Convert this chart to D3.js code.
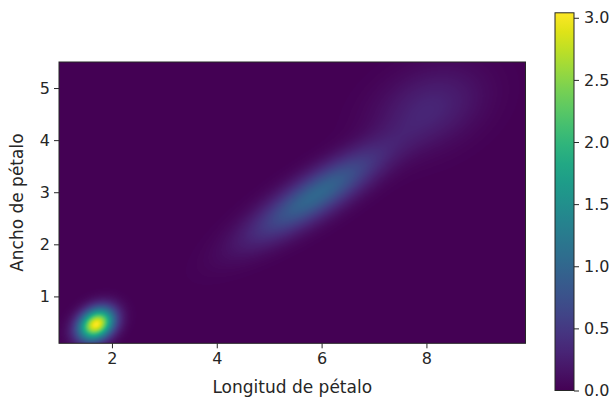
<!DOCTYPE html>
<html>
<head>
<meta charset="utf-8">
<script src="https://cdn.jsdelivr.net/npm/d3@7"></script>
<style>
  html, body { margin: 0; padding: 0; background: #fff; }
  svg { display: block; }
  text { font-family: "DejaVu Sans", sans-serif; fill: #262626; }
</style>
</head>
<body>
<svg id="chart" width="613" height="399"></svg>
<script>
// Axis extents (data units)
const xDomain = [0.99, 9.89];
const yDomain = [0.1, 5.5];
const xTicks = [2, 4, 6, 8];
const yTicks = [1, 2, 3, 4, 5];
const cbTicks = [0.0, 0.5, 1.0, 1.5, 2.0, 2.5, 3.0];
const cbMax = 3.04;

// Gaussian components of the density surface
const compCx    = [1.70, 5.90, 8.05];
const compCy    = [0.47, 2.95, 4.62];
const compPeak  = [3.02, 1.00, 0.30];
const compMajor = [0.25, 0.98, 0.72];
const compMinor = [0.19, 0.27, 0.48];
const compAngle = [35, 33, 25];   // degrees, orientation of major axis

const xLabel = "Longitud de pétalo";
const yLabel = "Ancho de pétalo";

const tickFont = 16;
const labelFont = 17;
const plot = { left: 59, right: 525.5, top: 62, bottom: 343.3 };
const cb = { left: 555, right: 574, top: 12.8, bottom: 390.5 };

const svg = d3.select("#chart");
const x = d3.scaleLinear().domain(xDomain).range([plot.left, plot.right]);
const y = d3.scaleLinear().domain(yDomain).range([plot.bottom, plot.top]);
const color = d3.scaleSequential(d3.interpolateViridis).domain([0, cbMax]);

function density(px, py) {
  let s = 0;
  for (let i = 0; i < compCx.length; i++) {
    const a = compAngle[i] * Math.PI / 180;
    const dx = px - compCx[i], dy = py - compCy[i];
    const u = dx * Math.cos(a) + dy * Math.sin(a);
    const v = -dx * Math.sin(a) + dy * Math.cos(a);
    s += compPeak[i] * Math.exp(-0.5 * ((u * u) / (compMajor[i] ** 2) + (v * v) / (compMinor[i] ** 2)));
  }
  return s;
}

// Raster heatmap rendered pixel by pixel through the scales
const w = Math.round(plot.right - plot.left), h = Math.round(plot.bottom - plot.top);
const canvas = document.createElement("canvas");
canvas.width = w; canvas.height = h;
const ctx = canvas.getContext("2d");
const img = ctx.createImageData(w, h);
for (let j = 0; j < h; j++) {
  const dy = y.invert(plot.top + j + 0.5);
  for (let i = 0; i < w; i++) {
    const dx = x.invert(plot.left + i + 0.5);
    const c = d3.rgb(color(Math.min(density(dx, dy), cbMax)));
    const k = (j * w + i) * 4;
    img.data[k] = c.r; img.data[k + 1] = c.g; img.data[k + 2] = c.b; img.data[k + 3] = 255;
  }
}
ctx.putImageData(img, 0, 0);
svg.append("image")
  .attr("x", plot.left).attr("y", plot.top)
  .attr("width", plot.right - plot.left).attr("height", plot.bottom - plot.top)
  .attr("preserveAspectRatio", "none")
  .attr("href", canvas.toDataURL());

// Axes
const xAxis = svg.append("g")
  .attr("transform", `translate(0,${plot.bottom})`)
  .call(d3.axisBottom(x).tickValues(xTicks).tickFormat(d3.format("d")).tickSize(5).tickPadding(4));
const yAxis = svg.append("g")
  .attr("transform", `translate(${plot.left},0)`)
  .call(d3.axisLeft(y).tickValues(yTicks).tickFormat(d3.format("d")).tickSize(5).tickPadding(4));
[xAxis, yAxis].forEach(g => {
  g.select(".domain").remove();
  g.selectAll("line").attr("stroke", "#262626").attr("stroke-width", 1);
  g.selectAll("text").attr("font-size", tickFont).attr("font-family", "DejaVu Sans").attr("fill", "#262626");
});

// Frame
svg.append("rect")
  .attr("x", plot.left).attr("y", plot.top)
  .attr("width", plot.right - plot.left).attr("height", plot.bottom - plot.top)
  .attr("fill", "none").attr("stroke", "#262626").attr("stroke-width", 1);

// Axis titles
svg.append("text")
  .attr("x", (plot.left + plot.right) / 2).attr("y", 393)
  .attr("text-anchor", "middle").attr("font-size", labelFont)
  .text(xLabel);
svg.append("text")
  .attr("transform", `translate(23,${(plot.top + plot.bottom) / 2}) rotate(-90)`)
  .attr("text-anchor", "middle").attr("font-size", labelFont)
  .text(yLabel);

// Colorbar
const cbScale = d3.scaleLinear().domain([0, cbMax]).range([cb.bottom, cb.top]);
const defs = svg.append("defs");
const grad = defs.append("linearGradient").attr("id", "cbgrad")
  .attr("x1", 0).attr("y1", 1).attr("x2", 0).attr("y2", 0);
d3.range(0, 1.0001, 0.05).forEach(t => {
  grad.append("stop").attr("offset", t).attr("stop-color", d3.interpolateViridis(t));
});
svg.append("rect")
  .attr("x", cb.left).attr("y", cb.top)
  .attr("width", cb.right - cb.left).attr("height", cb.bottom - cb.top)
  .attr("fill", "url(#cbgrad)").attr("stroke", "#262626").attr("stroke-width", 1);
const cbAxis = svg.append("g")
  .attr("transform", `translate(${cb.right},0)`)
  .call(d3.axisRight(cbScale).tickValues(cbTicks).tickFormat(d3.format(".1f")).tickSize(5).tickPadding(5));
cbAxis.select(".domain").remove();
cbAxis.selectAll("line").attr("stroke", "#262626");
cbAxis.selectAll("text").attr("font-size", tickFont).attr("font-family", "DejaVu Sans").attr("fill", "#262626");
</script>
</body>
</html>
